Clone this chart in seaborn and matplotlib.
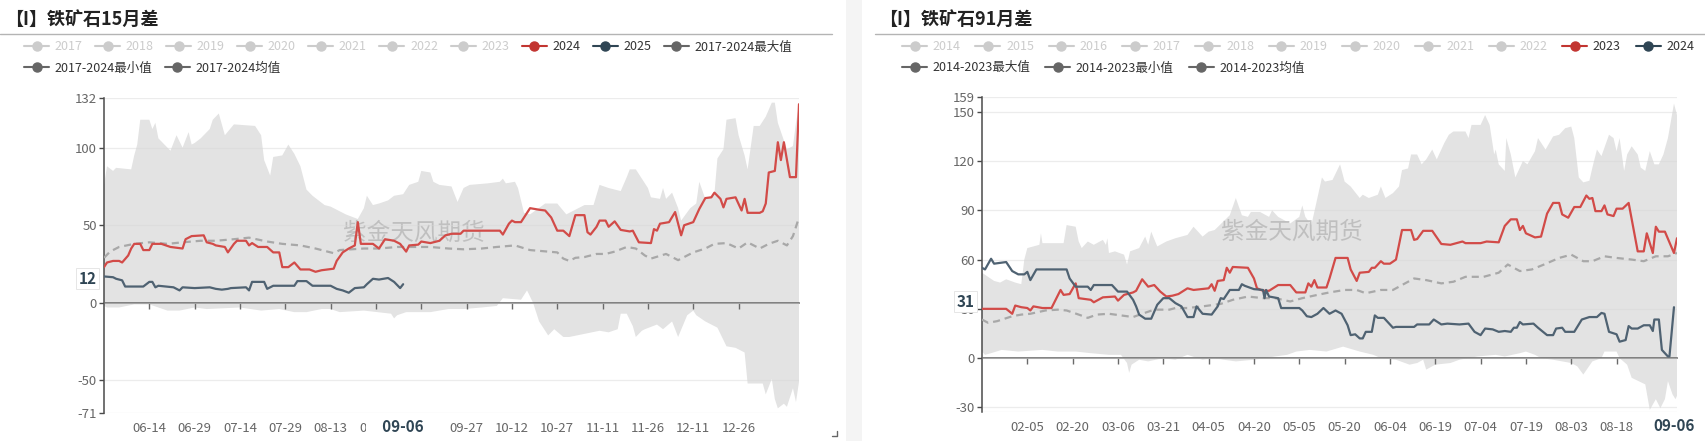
import numpy as np
import pandas as pd
import matplotlib
matplotlib.use("Agg")
import matplotlib.pyplot as plt
import seaborn as sns
from matplotlib.lines import Line2D
from matplotlib.patches import Rectangle

# ---------------- data ----------------
LEFT_TITLE = "【I】铁矿石15月差"
RIGHT_TITLE = "【I】铁矿石91月差"
WATERMARK = "紫金天风期货"

LEFT_BASE = "2024-05-30"     # first day shown on the left axis
RIGHT_BASE = "2024-01-21"    # first day shown on the right axis
SPAN_DAYS = 230
CURRENT_LEFT = "2024-09-06"
CURRENT_RIGHT = "2024-09-06"
CURRENT_LABEL = "09-06"
LEFT_LAST = 12
RIGHT_LAST = 31

LEFT_XTICKS = ["2024-06-14", "2024-06-29", "2024-07-14", "2024-07-29", "2024-08-13",
               "2024-08-28", "2024-09-12", "2024-09-27", "2024-10-12", "2024-10-27",
               "2024-11-11", "2024-11-26", "2024-12-11", "2024-12-26"]
RIGHT_XTICKS = ["2024-02-05", "2024-02-20", "2024-03-06", "2024-03-21", "2024-04-05",
                "2024-04-20", "2024-05-05", "2024-05-20", "2024-06-04", "2024-06-19",
                "2024-07-04", "2024-07-19", "2024-08-03", "2024-08-18"]
LEFT_YTICKS = [-71, -50, 0, 50, 100, 132]
RIGHT_YTICKS = [-30, 0, 30, 60, 90, 120, 150, 159]
RIGHT_YMIN = -33

LEFT_LEGEND_ROW1 = ["2017", "2018", "2019", "2020", "2021", "2022", "2023", "2024", "2025", "2017-2024最大值"]
LEFT_LEGEND_ROW2 = ["2017-2024最小值", "2017-2024均值"]
RIGHT_LEGEND_ROW1 = ["2014", "2015", "2016", "2017", "2018", "2019", "2020", "2021", "2022", "2023", "2024"]
RIGHT_LEGEND_ROW2 = ["2014-2023最大值", "2014-2023最小值", "2014-2023均值"]

# (day offset from base, value)
LEFT_MAX = [(0,76),(1,88),(3,85),(4,87),(9,86),(10,95),(11,102),(12,118),(15,118),(16,112),(17,116),(18,106),
            (22,98),(24,108),(26,100),(28,110),(29,102),(30,103),(32,106),(35,112),(36,118),(38,122),(40,108),
            (43,115),(50,114),(52,108),(53,92),(55,82),(56,94),(59,95),(61,102),(63,96),(65,88),(67,73),(69,69),
            (73,63),(75,62),(80,57),(84,54),(86,61),(87,69),(89,63),(91,64),(94,66),(96,69),(99,70),(101,76),
            (104,78),(105,85),(108,84),(109,78),(111,76),(115,75),(117,65),(119,74),(121,76),(127,77),(131,78),
            (132,80),(133,77),(136,78),(137,74),(139,58),(141,57),(146,64),(150,64),(153,57),(157,61),(159,63),
            (162,63),(164,76),(167,74),(171,72),(173,81),(174,86),(176,86),(178,80),(180,74),(181,68),(184,67),
            (185,74),(186,67),(188,71),(190,61),(191,53),(194,61),(196,64),(197,78),(199,67),(202,70),(203,93),
            (205,99),(206,118),(209,119),(210,108),(212,95),(213,86),(215,114),(217,114),(219,120),(221,129),
            (222,129),(223,116),(226,99),(228,101),(229,116),(230,127)]
LEFT_MIN = [(0,-2),(1,-3),(5,-3),(10,-1),(15,-1),(21,-5),(25,-5),(30,-3),(34,-4),(45,-3),(52,-5),(58,-4),(63,-6),
            (67,-6),(72,-4),(75,-4),(78,-6),(86,-5),(95,-7),(96,-10),(97,-8),(100,-6),(104,-6),(108,-6),(114,-4),
            (119,-4),(125,-3),(130,-2),(132,3),(138,2),(140,8),(142,0),(144,-12),(147,-21),(149,-17),(152,-22),
            (154,-22),(159,-20),(164,-18),(167,-19),(170,-17),(171,-7),(173,-7),(175,-15),(176,-22),(178,-18),
            (179,-17),(183,-14),(185,-17),(188,-12),(190,-22),(193,-8),(195,-5),(196,-8),(199,-12),(203,-16),
            (206,-28),(209,-29),(212,-32),(213,-52),(218,-52),(219,-59),(221,-49),(222,-62),(223,-68),(225,-65),
            (226,-67),(228,-55),(229,-64),(230,-51)]
LEFT_MEAN = [(0,29),(2,33),(5,36),(10,38),(15,39),(21,38),(26,39),(32,40),(37,40),(43,41),(48,42),(54,39.5),
             (59,38),(65,37),(70,35),(76,32),(78,34),(86,35),(91,35),(97,36),(102,36),(108,36),(114,35),
             (119,34.5),(125,35),(130,36),(136,37),(141,34),(147,33),(150,32.5),(152,28.5),(154,27),(156,29),
             (159,29.5),(163,31.5),(166,31.5),(169,33),(173,36),(176,35),(179,30.5),(181,28.5),(186,31.5),
             (190,27.5),(195,32.5),(199,35),(202,38),(206,38.5),(210,35),(213,39),(217,35),(220,38),(223,40),
             (226,37),(228,43),(230,55)]
LEFT_2024 = [(0,23),(1,26),(3,27),(5,27),(6,26),(8,30.5),(9,35),(10,38),(12,38),(13,34),(15,34),(16,38),(19,38),
             (22,36),(26,35),(27,41),(29,43),(33,43.5),(34,39),(36,38),(37,37),(40,36),(41,32.5),(43,38),(44,40),
             (47,40),(48,37),(49,38.5),(51,36),(54,36),(56,32.5),(58,32.5),(59,23),(61,23),(63,26),(65,21.5),
             (68,21.5),(70,20),(72,21),(76,22),(77,27),(79,32.5),(81,35),(83,37),(84,52),(85,38),(89,38),(91,35),
             (93,41),(96,40),(98,38),(100,33),(101,37),(104,37.5),(105,39.5),(108,38.5),(111,40),(113,43.5),
             (115,44.5),(118,44.5),(119,46.5),(131,46.5),(132,44),(134,51),(135,53),(136,52),(138,52),(141,61),
             (144,60),(146,59.5),(148,55),(150,46.5),(152,46.5),(154,43),(156,56.5),(159,56.5),(160,45.5),
             (161,44),(163,49),(164,53),(166,53),(167,49),(169,52.5),(171,47),(174,46),(175,46.5),(177,39),
             (181,38.5),(182,47.5),(183,46.5),(184,51),(187,52),(189,58.5),(191,43.5),(192,50),(195,52),
             (197,60.5),(199,67.5),(201,68),(202,71),(204,67),(205,61.5),(206,67),(209,68),(211,59.5),(212,67),
             (213,58),(217,58),(218,59),(219,64),(220,84),(222,85),(223,103.5),(224,92),(225,103.5),(227,81),
             (229,81),(230,128)]
LEFT_2025 = [(0,17),(3,16.5),(4,15.5),(6,14.5),(7,10.5),(13,10.5),(15,13.5),(16,13.5),(17,10),(18,11),(23,10),
             (25,8),(26,10),(30,9.5),(35,10),(37,9),(39,8.5),(41,9),(42,9.5),(47,10),(48,8),(49,13.5),(53,13.5),
             (54,9),(56,11),(63,11),(64,14),(67,14),(69,11),(75,11),(77,9),(79,8),(81,6.5),(83,9.5),(86,10),
             (87,12),(89,15.5),(91,15),(94,16),(96,13.5),(98,9.5),(99,12)]

RIGHT_MAX = [(0,52),(4,47),(6,46),(8,48),(11,46),(13,45),(14,60),(15,67),(19,69),(19.5,76),(20,70),(27,70),
             (28,81),(31,80),(32,71),(33,67),(35,71),(37,69),(40,72),(41,69),(41.5,73),(42,64),(44,65),(47,63),
             (48,57),(49,65),(52,67),(54,74),(55,69),(56,77),(58,68),(61,71),(64,73),(68,75),(70,80),(73,74),
             (75,77),(77,78),(82,87),(84,97.5),(86,87),(88,86),(89,89),(92,89),(95,86),(96,90),(98,86),(99,85),
             (102,82),(105,86),(106,93),(107,86),(109,81),(111,97.5),(112.5,110),(113.5,107.5),(116,108.5),
             (118.5,118),(120,107.5),(122,104.5),(125,97.5),(126,99.5),(128,97.5),(131,99.5),(132,104.5),
             (133.5,97.5),(136,100.5),(138,104.5),(139,114.5),(141,115.5),(142,124),(144,124),(145.5,118),
             (147,121),(149,127),(150.5,121),(153,131),(154.5,136),(156,138),(160,138),(161,134),(162,142),
             (165,142),(166.5,148),(168,142),(169.5,124),(170,127),(171,118),(173,114),(173.5,134),(175,124),
             (176.5,110),(178,116),(179,120),(180.5,118),(183,126),(184,134),(186.5,127),(189,135),(191,136),
             (193,140),(195,141),(196,134),(197.5,110),(199,107),(201,108),(202,116),(203.5,127),(205,123),
             (207.5,136),(209,134),(210,126),(211,134),(212.5,114),(213.5,124),(215,129),(217,124),(218,116),
             (219.5,114),(221,126),(222.5,118),(224,118),(225.5,124),(227,134),(229,155),(230,148)]
RIGHT_MIN = [(0,4),(1,2),(3,3),(6.5,5),(12,4),(20,5),(25,4),(31,4),(36,3),(42,2),(46,2),(48,-3),(48.7,-9),
             (49.5,-4),(52,-1),(55,-2),(60,0),(64,-1),(68,2),(73,-1),(77,0),(80,-1),(84,-2),(90,-1),(97,1),
             (101,2),(104,4),(108.5,5),(114,4),(119.5,7),(125,4),(129.5,2),(132,0),(137,-1),(141.5,-4),(144,-3),
             (146,-1),(147,-7),(150,-4),(155,-3),(158,-1),(164,1),(170,2),(173,1),(178,3),(180,4),(183,2),
             (185,0),(189,-1),(195,-3),(197,-5),(199,-10),(202,-2),(205,0),(206,4),(210,4),(211,0),(213.5,-4),
             (215,-12),(219.5,-16),(221,-31.5),(223,-25),(224.5,-30.5),(226,-25),(227,-14),(228.5,-22),
             (229.5,-25),(230,-23)]
RIGHT_MEAN = [(0,23.5),(2,21.5),(5,22.5),(10,25.5),(13,26.5),(16,27),(21,29),(25,29.5),(28,29),(32,26.5),
              (35,24.5),(38,26.5),(42,27),(46,26),(50,25),(53,27),(57,29.5),(62,29.5),(64,30.5),(68,30.5),
              (73,31.5),(77,32.5),(79,33),(83,35.5),(88,37.5),(93,36.5),(97,36.5),(102,34.5),(106,36.5),
              (111,38.5),(115,40),(120,41.5),(124,41.5),(127,39.5),(132,41.5),(136,41.5),(140,45.5),(143,48.5),
              (147,47.5),(152,45.5),(156,46.5),(160,49.5),(166,49.5),(171,52),(174,57),(178,53),(182,54),
              (186,57),(191,61),(195,63),(199,59),(202,59),(206,62),(210,61),(215,60),(219,59),(223,62),
              (227,62),(230,64)]
RIGHT_2023 = [(0,30),(8,30),(10,27),(11,32),(13,31),(15,30.5),(16,29),(17,31.5),(20,30.5),(23,30.5),(26,41.5),
              (27,38.5),(29,39),(31,45.5),(32,36.5),(36,35.5),(37,34),(40,37),(44,37.5),(45,35),(47,38.5),
              (50,40),(51,41),(53,48),(55,43.5),(57,44.5),(59,40.5),(61,37.5),(63,38),(65,39),(68,42.5),
              (70,41.5),(75,42.5),(76,45),(77,41),(78,47),(80,47.5),(81,55),(82,52),(83,55.5),(88,55),(90,48.5),
              (91,42.5),(93,41),(95,41),(98,44.5),(102,44.5),(104,40),(107,40),(108,45.5),(109,43.5),(110,47.5),
              (111,43),(114,43),(115,48.5),(117,61),(121,61),(122,54),(124,47),(125,52),(128,52.5),(129,55),
              (130,55),(132,59),(133,57.5),(135,57.5),(137,60),(139,78),(142,78),(143,72),(144,72.5),(146,77.5),
              (149,77.5),(152,69.5),(155,69),(159,71),(160,70),(165,70),(167,71),(171,70.5),(173,80.5),
              (175,84.5),(177,84.5),(178,78),(179,80.5),(180,76),(183,73.5),(185,74),(187,88),(189,94.5),
              (191,94.5),(192,87.5),(194,85.5),(196,92),(198,92),(200,99),(201,97),(202,97.5),(203,89.5),
              (205,89.5),(206,93),(207,87.5),(209,86.5),(210,91),(212,91),(214,94.5),(217,65),(219,65),(220,76),
              (222,64),(223,80),(224,77),(226,77),(229,64),(230,73)]
RIGHT_2024 = [(0,55),(1,54),(3,60.5),(4,57.5),(8,58.5),(10,53),(12,51),(14,51),(15,52.5),(16,47.5),(18,54),
              (20,54),(28,54),(29,48.5),(31,43.5),(35,43.5),(36,41.5),(37,44.5),(43,44.5),(45,40.5),(48,40.5),
              (50,35.5),(51,31.5),(52,26.5),(54,24),(56,24),(58,32.5),(60,36.5),(62,36.5),(64,33.5),(66,31.5),
              (68,25),(70,25),(71,31.5),(73,27),(76,26.5),(78,31.5),(79,36.5),(80,36),(82,41.5),(85,41.5),(86,45),
              (87,44),(90,42),(93,41.5),(93.5,36.5),(94,41.5),(95,37.5),(98,36.5),(99,30.5),(105,30.5),(106,29),
              (107.5,25.5),(109,25),(111,27),(113,30.5),(115,27),(117,29),(119,27),(121,20),(122,14),(123.5,14.5),
              (125,12),(126,12),(127,16),(129,16),(130,26),(131,24.5),(133,24.5),(136,18.5),(137,19),(143,19),
              (144,20.5),(148,20.5),(149.5,23.5),(152,20.5),(154,21),(158,20.5),(161,21),(163,16),(165,14),
              (166.5,18),(169,17.5),(171,16),(173,16.5),(175,16),(176,18.5),(177,18.5),(178,22),(179,20.5),
              (182.5,21),(184,18.5),(187,14),(189,14),(190,18),(192,18.5),(193,16),(196,16),(198.5,23.5),
              (201,25),(203.5,25),(205,27.5),(206,27),(207.5,16),(210,14.5),(211,10),(213,11),(214,19.5),
              (215,18),(217,18),(219,20),(221,20),(222,16.5),(222.5,23.5),(224,23.5),(225,5),(227,1),(227.5,1),
              (229,31)]

# ---------------- styles ----------------
W, H = 1705, 441
BAND = "#e3e3e3"
RED = "#d24b48"
NAVY = "#4f6272"
MEAN = "#a8a8a8"
TICK_COLOR = "#666666"
INACTIVE = "#cccccc"

sns.set_theme(style="white")
plt.rcParams["font.family"] = ["Noto Sans CJK SC", "DejaVu Sans"]
plt.rcParams["axes.unicode_minus"] = False


def frame(pairs, base):
    d = np.array([p[0] for p in pairs], dtype=float)
    v = np.array([p[1] for p in pairs], dtype=float)
    return pd.DataFrame({"date": pd.Timestamp(base) + pd.to_timedelta(d, unit="D"), "value": v})


def panel(ax, base, mx, mn, mean, red, navy, yticks, ymin, ymax, xticks, current, last, label_pad):
    base_ts = pd.Timestamp(base)
    end_ts = base_ts + pd.Timedelta(days=SPAN_DAYS)
    tx = ax.twiny()
    dmax, dmin = frame(mx, base), frame(mn, base)
    xs = np.concatenate([dmax["date"].to_numpy(), dmin["date"].to_numpy()[::-1]])
    ys = np.concatenate([dmax["value"].to_numpy(), dmin["value"].to_numpy()[::-1]])
    ax.fill(xs, ys, color=BAND, lw=0, zorder=1)

    dm = frame(mean, base)
    sns.lineplot(data=dm, x="date", y="value", ax=ax, color=MEAN, linewidth=1.6,
                 estimator=None, sort=False, zorder=3)
    ax.lines[-1].set_dashes([3.2, 2.2])
    sns.lineplot(data=frame(red, base), x="date", y="value", ax=ax, color=RED, linewidth=1.6,
                 estimator=None, sort=False, zorder=4)
    sns.lineplot(data=frame(navy, base), x="date", y="value", ax=ax, color=NAVY, linewidth=1.6,
                 estimator=None, sort=False, zorder=5)
    ax.set_xlabel("")
    ax.set_ylabel("")

    ax.set_xlim(base_ts, end_ts)
    ax.set_ylim(ymin, ymax)
    ax.set_yticks(yticks)
    ax.set_yticklabels([str(t) for t in yticks])
    ax.set_axisbelow(False)
    ax.yaxis.grid(True, color="#d6d6d6", alpha=0.45, lw=0.9)
    ax.xaxis.grid(False)
    if ymin not in yticks:
        ax.axhline(ymin, color="#d6d6d6", alpha=0.45, lw=0.9, zorder=2.5)

    tick_dates = pd.to_datetime(xticks)
    ax.set_xticks(tick_dates)
    ax.spines["bottom"].set_position(("data", 0))
    ax.spines["bottom"].set_color("#6a6a6a")
    ax.spines["bottom"].set_linewidth(1.2)
    ax.spines["left"].set_color("#4a4a4a")
    ax.spines["left"].set_linewidth(1.1)
    for s in ("top", "right"):
        ax.spines[s].set_visible(False)
    ax.tick_params(axis="x", which="both", bottom=True, top=False, direction="out", length=4.5,
                   width=1.0, color="#6a6a6a", labelbottom=False, labeltop=False)
    ax.tick_params(axis="y", left=True, direction="out", length=3.6, width=1.0, color="#4a4a4a",
                   pad=1.5, labelsize=9.5, labelcolor=TICK_COLOR)

    tx.set_xlim(base_ts, end_ts)
    tx.set_xticks(tick_dates)
    tx.set_xticklabels([t.strftime("%m-%d") for t in tick_dates])
    tx.tick_params(axis="x", which="both", top=False, labeltop=False, bottom=True, labelbottom=True,
                   length=0, pad=6.5, labelsize=9.5, labelcolor=TICK_COLOR)
    for s in tx.spines.values():
        s.set_visible(False)

    pad = "\u2002" * label_pad
    tx.annotate(pad + CURRENT_LABEL + pad, xy=(pd.Timestamp(current), 0),
                xycoords=("data", "axes fraction"), xytext=(0, -10), textcoords="offset points",
                ha="center", va="center", fontsize=11, fontweight="bold", color="#2f4554",
                bbox=dict(boxstyle="square,pad=0.1", fc="white", ec="none"), annotation_clip=False,
                zorder=10)
    ax.annotate(str(last), xy=(0, last), xycoords=("axes fraction", "data"), xytext=(-5.5, 4),
                textcoords="offset points", ha="right", va="center", fontsize=11, fontweight="bold",
                color="#2f4554", annotation_clip=False, zorder=10,
                bbox=dict(boxstyle="square,pad=0.15", fc="white", ec="#e2e2e2", lw=0.6))
    ax.text(0.446, 0.57, WATERMARK, transform=ax.transAxes, fontsize=17, color="#bcbcbc",
            alpha=0.9, ha="center", va="center", zorder=2)


def legend_row(fig, labels, colors, text_colors, x_px, y_px, colspace):
    handles = [Line2D([0], [0], color=c, lw=1.5, marker="o", markersize=6.5,
                      markerfacecolor=c, markeredgecolor=c) for c in colors]
    leg = fig.legend(handles, labels, loc="center left", bbox_to_anchor=(x_px / W, 1 - y_px / H),
                     ncol=len(labels), frameon=False, fontsize=9, handlelength=2.0,
                     handletextpad=0.45, columnspacing=colspace, borderpad=0, borderaxespad=0)
    for t, c in zip(leg.get_texts(), text_colors):
        t.set_color(c)
    return leg


fig = plt.figure(figsize=(W / 100, H / 100), dpi=100)
fig.patch.set_facecolor("white")

axL = fig.add_axes([104 / W, 1 - 413 / H, 695 / W, 315 / H])
axR = fig.add_axes([982 / W, 1 - 412.3 / H, 695 / W, 315.3 / H])

panel(axL, LEFT_BASE, LEFT_MAX, LEFT_MIN, LEFT_MEAN, LEFT_2024, LEFT_2025,
      LEFT_YTICKS, LEFT_YTICKS[0], LEFT_YTICKS[-1], LEFT_XTICKS, CURRENT_LEFT, LEFT_LAST, 2)
panel(axR, RIGHT_BASE, RIGHT_MAX, RIGHT_MIN, RIGHT_MEAN, RIGHT_2023, RIGHT_2024,
      RIGHT_YTICKS, RIGHT_YMIN, RIGHT_YTICKS[-1], RIGHT_XTICKS, CURRENT_RIGHT, RIGHT_LAST, 0)

# separator strip and header decorations
fig.add_artist(Rectangle((846 / W, 0), 16 / W, 1, transform=fig.transFigure,
                         facecolor="#f4f4f4", edgecolor="none", zorder=0))
fig.add_artist(Line2D([0, 832 / W], [1 - 34 / H, 1 - 34 / H], transform=fig.transFigure,
                      color="#b4b4b4", lw=1.0))
fig.add_artist(Line2D([875 / W, 1], [1 - 34 / H, 1 - 34 / H], transform=fig.transFigure,
                      color="#b4b4b4", lw=1.0))
fig.add_artist(Line2D([832 / W, 837 / W, 837 / W], [1 - 436 / H, 1 - 436 / H, 1 - 431 / H],
                      transform=fig.transFigure, color="#666666", lw=1.0))

fig.text(5 / W, 1 - 19 / H, LEFT_TITLE, fontsize=13, fontweight="bold", color="#222222",
         ha="left", va="center")
fig.text(879 / W, 1 - 19 / H, RIGHT_TITLE, fontsize=13, fontweight="bold", color="#222222",
         ha="left", va="center")

# legends
legend_row(fig, LEFT_LEGEND_ROW1,
           [INACTIVE] * 7 + ["#c23531", "#2f4554", "#666666"],
           [INACTIVE] * 7 + ["#333333"] * 3, 24, 47, 1.0)
legend_row(fig, LEFT_LEGEND_ROW2, ["#666666", "#666666"], ["#333333"] * 2, 24, 68, 1.0)
legend_row(fig, RIGHT_LEGEND_ROW1,
           [INACTIVE] * 9 + ["#c23531", "#2f4554"],
           [INACTIVE] * 9 + ["#333333"] * 2, 902, 47, 1.18)
legend_row(fig, RIGHT_LEGEND_ROW2, ["#666666"] * 3, ["#333333"] * 3, 902, 68, 1.18)

fig.savefig("out.png", dpi=100, facecolor="white")
